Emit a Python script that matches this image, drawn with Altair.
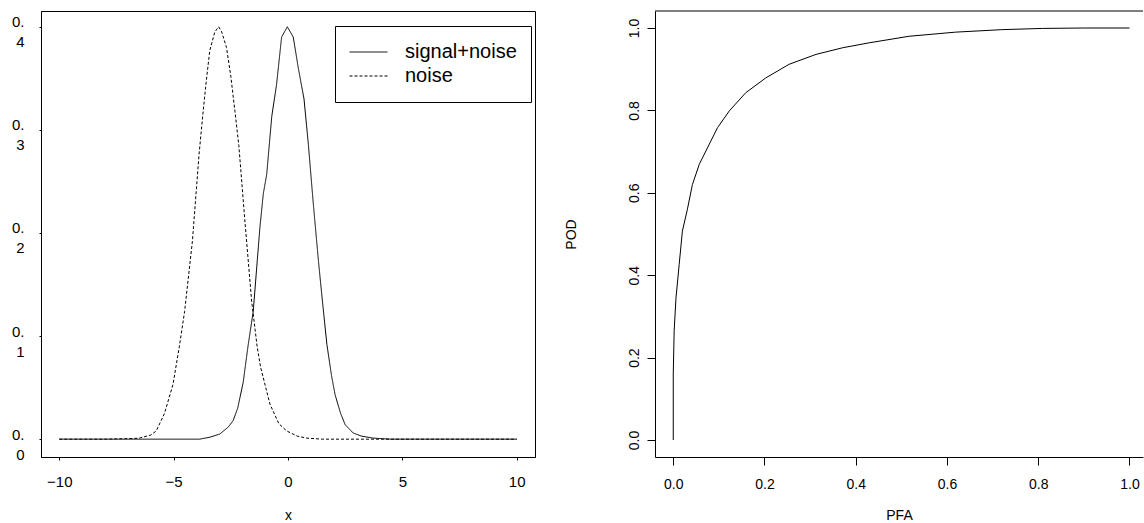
import altair as alt
import pandas as pd

# ---- left panel: densities ----
noise_x = [-10, -8, -7, -6.5, -6, -5.76, -5.4, -5.03, -4.75, -4.52, -4.18, -3.89, -3.71, -3.57,
           -3.42, -3.2, -3.03, -2.9, -2.69, -2.5, -2.32, -2.15, -1.89, -1.59, -1.35, -1.2, -0.79,
           -0.4, -0.06, 0.4, 0.82, 1.5, 4, 7, 10]
noise_y = [0, 0, 0.0005, 0.001, 0.004, 0.008, 0.025, 0.053, 0.09, 0.124, 0.192, 0.276, 0.318, 0.348,
           0.377, 0.395, 0.40, 0.395, 0.38, 0.352, 0.318, 0.285, 0.213, 0.134, 0.09, 0.07, 0.034,
           0.015, 0.008, 0.003, 0.001, 0.0, 0.0, 0.0, 0.0]

signal_x = [-10, -7, -3.86, -3.4, -2.98, -2.6, -2.4, -2.2, -1.96, -1.75, -1.52, -1.23, -1.08, -0.93,
            -0.71, -0.5, -0.28, -0.03, 0.23, 0.45, 0.7, 0.89, 1.1, 1.33, 1.5, 1.7, 1.9, 2.06, 2.3,
            2.5, 2.85, 3.2, 3.73, 4.5, 7, 10]
signal_y = [0, 0, 0, 0.002, 0.005, 0.012, 0.018, 0.03, 0.055, 0.09, 0.124, 0.205, 0.238, 0.257,
            0.313, 0.344, 0.39, 0.40, 0.39, 0.36, 0.33, 0.286, 0.23, 0.173, 0.135, 0.092, 0.062, 0.043,
            0.025, 0.014, 0.006, 0.003, 0.001, 0.0, 0.0, 0.0]

series_names = ["signal+noise", "noise"]
x_ticks = [-10, -5, 0, 5, 10]
y_ticks = [0.0, 0.1, 0.2, 0.3, 0.4]

# ---- right panel: ROC ----
pfa = [0, 0.0, 0.002, 0.006, 0.013, 0.02, 0.031, 0.042, 0.057, 0.079, 0.097, 0.123, 0.159, 0.203,
       0.254, 0.313, 0.371, 0.429, 0.517, 0.619, 0.72, 0.809, 0.9, 1.0]
pod = [0, 0.16, 0.265, 0.345, 0.426, 0.507, 0.56, 0.62, 0.669, 0.718, 0.758, 0.799, 0.843, 0.879,
       0.912, 0.936, 0.952, 0.964, 0.98, 0.99, 0.996, 0.999, 1.0, 1.0]
roc_ticks = [0.0, 0.2, 0.4, 0.6, 0.8, 1.0]

FONT = "Liberation Sans"

dens = pd.DataFrame(
    [{"x": a, "y": b, "series": series_names[0], "o": i} for i, (a, b) in enumerate(zip(signal_x, signal_y))]
    + [{"x": a, "y": b, "series": series_names[1], "o": i} for i, (a, b) in enumerate(zip(noise_x, noise_y))]
)

left = alt.Chart(dens).mark_line(color="black", strokeWidth=1).encode(
    x=alt.X("x:Q", scale=alt.Scale(domain=[-10.8, 10.8], nice=False, zero=False),
            axis=alt.Axis(title="x", values=x_ticks, format="d", tickSize=3, labelPadding=14,
                          labelFontSize=15, titleFontSize=14, titlePadding=19,
                          titleFontWeight="normal", grid=False)),
    y=alt.Y("y:Q", scale=alt.Scale(domain=[-0.0173, 0.4153], nice=False, zero=False),
            axis=alt.Axis(title=None, values=y_ticks, tickSize=2, labelPadding=15,
                          labelFontSize=15, labelBaseline="alphabetic", labelLineHeight=20,
                          labelAlign="right",
                          labelExpr="[substring(format(datum.value, '.1f'), 0, 2), substring(format(datum.value, '.1f'), 2, 3)]",
                          grid=False)),
    strokeDash=alt.StrokeDash("series:N",
                              scale=alt.Scale(domain=series_names, range=[[1, 0], [3, 2]]),
                              legend=alt.Legend(title=None, orient="none", legendX=294, legendY=15,
                                                strokeColor="black", fillColor="white",
                                                padding=14, symbolType="stroke", symbolSize=1444,
                                                symbolStrokeColor="black", symbolStrokeWidth=1,
                                                labelFontSize=20, labelOffset=17, rowPadding=0,
                                                clipHeight=24,
                                                labelColor="black", labelFont=FONT,
                                                cornerRadius=0)),
    order="o:Q",
).properties(width=494, height=446, view=alt.ViewBackground(stroke="black", strokeWidth=1))

roc = pd.DataFrame({"PFA": pfa, "POD": pod, "o": list(range(len(pfa)))})

roc_line = alt.Chart(roc).mark_line(color="black", strokeWidth=1).encode(
    x=alt.X("PFA:Q", scale=alt.Scale(domain=[-0.04, 1.0296], nice=False, zero=False),
            axis=alt.Axis(title="PFA", values=roc_ticks, format=".1f", tickSize=8, labelPadding=12,
                          labelFontSize=14, titleFontSize=14, titlePadding=17,
                          titleFontWeight="normal", grid=False)),
    y=alt.Y("POD:Q", scale=alt.Scale(domain=[-0.0413, 1.0413], nice=False, zero=False),
            axis=alt.Axis(title="POD", values=roc_ticks, format=".1f", tickSize=8, labelPadding=6,
                          labelFontSize=14, labelAngle=-90, labelAlign="center",
                          labelBaseline="bottom", titleFontSize=14, titlePadding=49,
                          titleFontWeight="normal", grid=False)),
    order="o:Q",
)
top_rule = alt.Chart(alt.Data(values=[{"a": 1}])).mark_rule(color="black", strokeWidth=1).encode(
    x=alt.value(0), x2=alt.value(488), y=alt.value(0)
)
right = alt.layer(roc_line, top_rule).properties(
    width=488, height=446, view=alt.ViewBackground(stroke="transparent")
)

chart = alt.hconcat(left, right, spacing=27).properties(
    padding={"left": 10, "top": 10, "right": 0, "bottom": 0}
).configure(font=FONT).configure_axis(
    domainColor="black", tickColor="black", labelColor="black", titleColor="black",
    labelFont=FONT, titleFont=FONT, domainWidth=1, tickWidth=1
).configure_view(stroke=None)

chart.save("out.html", embed_options={"renderer": "svg", "actions": False})
